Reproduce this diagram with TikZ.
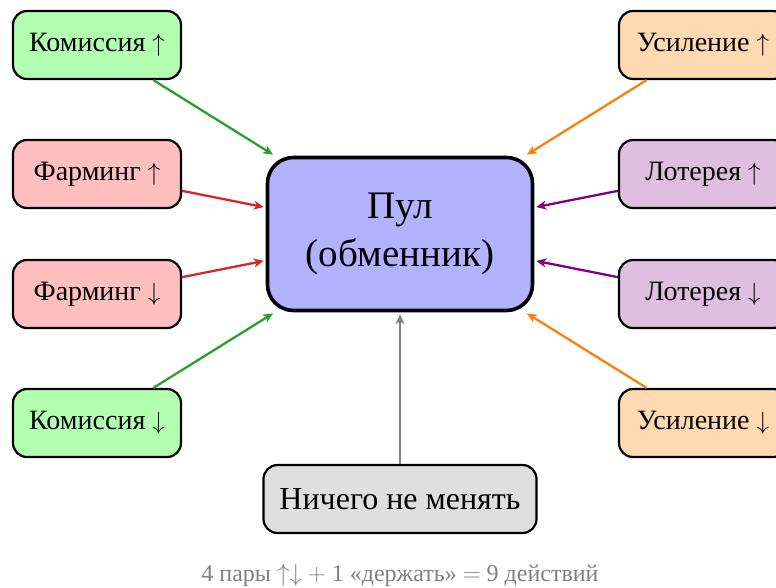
\documentclass[tikz,border=0pt]{standalone}
\usepackage{fontspec}
\setmainfont{Liberation Serif}
\usetikzlibrary{arrows.meta}
\definecolor{lotpurple}{RGB}{128,0,128}
\definecolor{feegreen}{RGB}{44,160,44}
\definecolor{farmred}{RGB}{214,39,40}
\definecolor{boostorange}{RGB}{255,127,14}
\tikzset{
  action/.style={draw=black, line width=2.2pt, rounded corners=14pt,
    minimum width=168pt, minimum height=68pt, inner sep=0pt,
    font=\fontsize{28}{32}\selectfont},
  poolbox/.style={draw=black, line width=3.6pt, rounded corners=26pt,
    fill=blue!30, minimum width=265pt, minimum height=153pt, inner sep=0pt,
    align=center, font=\fontsize{39}{48}\selectfont},
  holdbox/.style={draw=black, line width=2.2pt, rounded corners=14pt,
    fill=gray!25, minimum width=273pt, minimum height=68pt, inner sep=0pt,
    font=\fontsize{32}{36}\selectfont},
  link/.style={line width=2.3pt, shorten >=2pt,
    -{Stealth[length=10pt,width=9pt,inset=3pt]}},
}
\begin{document}
\begin{tikzpicture}[x=1pt,y=-1pt]
  \useasboundingbox (0,0) rectangle (776,587);

  % central pool
  \node[poolbox] (pool) at (400,234) {Пул\\(обменник)};

  % left column
  \node[action, fill=green!30] (komup) at (97,45)  {Комиссия $\uparrow$};
  \node[action, fill=red!25]   (farup) at (97,174) {Фарминг $\uparrow$};
  \node[action, fill=red!25]   (fardn) at (97,294) {Фарминг $\downarrow$};
  \node[action, fill=green!30] (komdn) at (97,423) {Комиссия $\downarrow$};

  % right column
  \node[action, fill=orange!30]    (usup) at (703,45)  {Усиление $\uparrow$};
  \node[action, fill=lotpurple!25] (lotup) at (703,174) {Лотерея $\uparrow$};
  \node[action, fill=lotpurple!25] (lotdn) at (703,294) {Лотерея $\downarrow$};
  \node[action, fill=orange!30]    (usdn) at (703,423) {Усиление $\downarrow$};

  % hold action
  \node[holdbox] (hold) at (400,499) {Ничего не менять};

  % connectors into the pool
  \draw[link, feegreen]    (komup) -- (pool);
  \draw[link, farmred]     (farup) -- (pool);
  \draw[link, farmred]     (fardn) -- (pool);
  \draw[link, feegreen]    (komdn) -- (pool);
  \draw[link, boostorange] (usup) -- (pool);
  \draw[link, lotpurple]   (lotup) -- (pool);
  \draw[link, lotpurple]   (lotdn) -- (pool);
  \draw[link, boostorange] (usdn) -- (pool);
  \draw[link, gray]        (hold) -- (pool);

  % caption
  \node[text=gray, font=\fontsize{24}{28}\selectfont] (caption) at (400,575)
    {4 пары $\uparrow\downarrow$ $+$ 1 «держать» $=$ 9 действий};
\end{tikzpicture}
\end{document}
